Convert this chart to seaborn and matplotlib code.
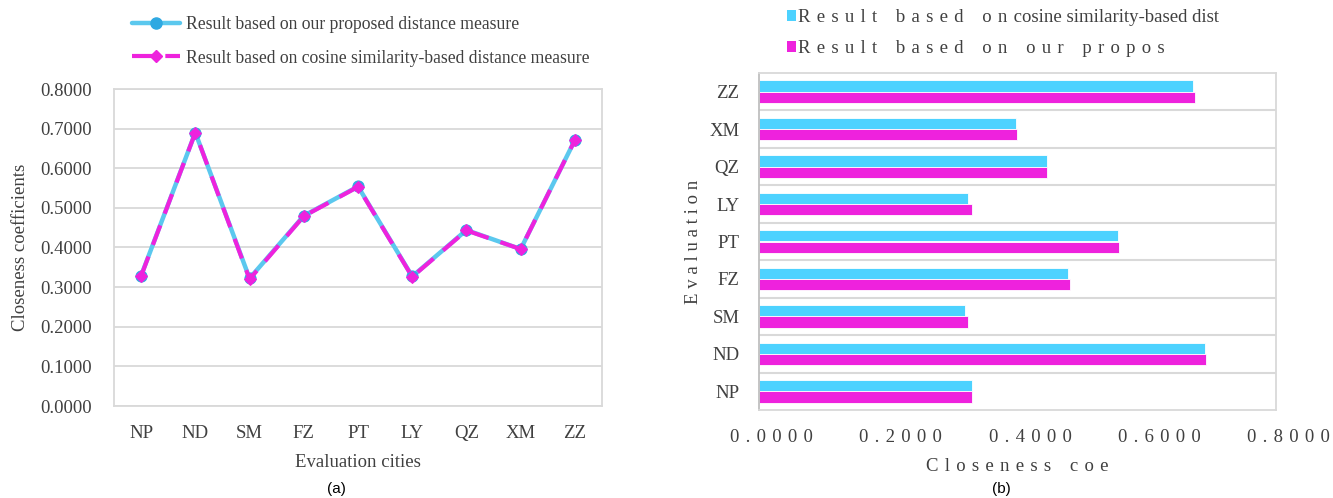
import numpy as np
import pandas as pd
import matplotlib
matplotlib.use("Agg")
import matplotlib.pyplot as plt
from matplotlib.lines import Line2D
from matplotlib.patches import Patch
import seaborn as sns

# ---------------- data ----------------
cities = ["NP", "ND", "SM", "FZ", "PT", "LY", "QZ", "XM", "ZZ"]
proposed_line = [0.329, 0.690, 0.322, 0.480, 0.554, 0.327, 0.444, 0.396, 0.671]
cosine_line = [0.328, 0.690, 0.320, 0.479, 0.553, 0.326, 0.443, 0.396, 0.671]

bar_cyan = [0.329, 0.690, 0.318, 0.478, 0.555, 0.324, 0.446, 0.397, 0.672]
bar_magenta = [0.330, 0.692, 0.323, 0.482, 0.557, 0.329, 0.446, 0.399, 0.674]

yticks_a = [0.0, 0.1, 0.2, 0.3, 0.4, 0.5, 0.6, 0.7, 0.8]
xticks_b = [0.0, 0.2, 0.4, 0.6, 0.8]

label_a1 = "Result based on our proposed distance measure"
label_a2 = "Result based on cosine similarity-based distance measure"

CYAN_LINE = "#5BC8EE"
CYAN_MARK = "#2FA9E2"
MAGENTA = "#EE22DD"
CYAN_BAR = "#4DD2FF"
GRID = "#D9D9D9"
TEXT = "#404040"

SEP = "\u2004"


def spaced(s, sep=" "):
    return (sep * 3).join(sep.join(w) for w in s.split(" "))


sns.set_style("white")
plt.rcParams["font.family"] = ["Liberation Serif", "DejaVu Serif"]
plt.rcParams["text.color"] = TEXT
plt.rcParams["axes.labelcolor"] = TEXT
plt.rcParams["xtick.color"] = TEXT
plt.rcParams["ytick.color"] = TEXT

W, H = 1333, 498
fig = plt.figure(figsize=(W / 100, H / 100), dpi=100)

# ---------------- (a) line chart ----------------
axa = fig.add_axes([114 / W, (H - 406) / H, 488 / W, 317 / H])
df_a = pd.DataFrame({
    "city": cities * 2,
    "value": proposed_line + cosine_line,
    "series": [label_a1] * len(cities) + [label_a2] * len(cities),
})
df_a["x"] = list(range(len(cities))) * 2
sns.lineplot(data=df_a[df_a.series == label_a1], x="x", y="value", ax=axa,
             color=CYAN_LINE, lw=3.2, marker="o", markersize=8,
             markerfacecolor=CYAN_MARK, markeredgecolor=CYAN_MARK, legend=False)
sns.lineplot(data=df_a[df_a.series == label_a2], x="x", y="value", ax=axa,
             color=MAGENTA, lw=3.0, marker="D", markersize=6.5,
             markerfacecolor=MAGENTA, markeredgecolor=MAGENTA, legend=False)
axa.lines[1].set_dashes([5, 3])
axa.set_xlim(-0.5, len(cities) - 0.5)
axa.set_ylim(0, 0.8)
axa.set_yticks(yticks_a)
axa.set_yticklabels([f"{v:.4f}" for v in yticks_a], fontsize=13.5)
axa.set_xticks(range(len(cities)))
axa.set_xticklabels(cities, fontsize=13.5)
axa.tick_params(axis="y", length=0, pad=16)
axa.tick_params(axis="x", length=0, pad=14)
axa.grid(axis="y", color=GRID, lw=1.3)
axa.set_axisbelow(True)
for s in axa.spines.values():
    s.set_color(GRID)
    s.set_linewidth(1.3)
axa.set_xlabel("Evaluation cities", fontsize=13.5, labelpad=8)
axa.set_ylabel("Closeness coefficients", fontsize=13.5, labelpad=8)

handles_a = [
    Line2D([], [], color=CYAN_LINE, lw=3.2, marker="o", markersize=8,
           markerfacecolor=CYAN_MARK, markeredgecolor=CYAN_MARK),
    Line2D([], [], color=MAGENTA, lw=3.0, marker="D", markersize=6.5,
           dashes=[5, 3]),
]
fig.legend(handles_a, [label_a1, label_a2], loc="upper left",
           bbox_to_anchor=(116 / W, 1 - 0 / H), frameon=False, fontsize=12.7,
           handlelength=2.7, handletextpad=0.35, labelspacing=0.95,
           labelcolor=TEXT)

fig.text(336 / W, 1 - 489 / H, "(a)", family=["Liberation Sans", "DejaVu Sans"],
         fontsize=11, ha="center", va="center", color="#000000")

# ---------------- (b) bar chart ----------------
axb = fig.add_axes([759 / W, (H - 410) / H, 517 / W, 337 / H])
order = cities[::-1]
hue_cyan = "cyan"
hue_mag = "magenta"
df_b = pd.DataFrame({
    "city": cities * 2,
    "value": bar_cyan + bar_magenta,
    "series": [hue_cyan] * len(cities) + [hue_mag] * len(cities),
})
sns.barplot(data=df_b, y="city", x="value", hue="series", order=order,
            hue_order=[hue_cyan, hue_mag], orient="h", ax=axb, width=0.6,
            palette={hue_cyan: CYAN_BAR, hue_mag: MAGENTA}, legend=False,
            edgecolor="white", linewidth=0.6, saturation=1)
axb.set_xlim(0, 0.8)
axb.set_ylim(len(cities) - 0.5, -0.5)
axb.set_xticks(xticks_b)
axb.set_xticklabels([SEP * 4 + spaced(f"{v:.4f}", SEP) for v in xticks_b],
                    fontsize=13.5)
axb.set_yticks(range(len(order)))
axb.set_yticklabels(order, fontsize=13.5)
axb.set_yticks(np.arange(len(order) - 1) + 0.5, minor=True)
axb.grid(axis="y", which="minor", color=GRID, lw=1.5)
axb.grid(axis="x", visible=False)
axb.set_axisbelow(True)
axb.tick_params(axis="y", which="both", length=0, pad=14)
axb.tick_params(axis="x", length=0, pad=14)
for name, s in axb.spines.items():
    s.set_color(GRID)
    s.set_linewidth(1.3)
axb.spines["left"].set_color("#BFBFBF")
axb.set_xlabel(spaced("Closeness coe", SEP), fontsize=13.5, labelpad=8)
axb.set_ylabel(spaced("Evaluation"), fontsize=13.5, labelpad=5)

lab_b1 = spaced("Result based on", SEP) + SEP + "cosine similarity-based dist"
lab_b2 = spaced("Result based on our propos", SEP)
handles_b = [Patch(facecolor=CYAN_BAR, edgecolor="none"),
             Patch(facecolor=MAGENTA, edgecolor="none")]
fig.legend(handles_b, [lab_b1, lab_b2], loc="upper left",
           bbox_to_anchor=(770 / W, 1 + 8 / H), frameon=False, fontsize=13.5,
           handlelength=0.5, handleheight=0.5, handletextpad=0.1,
           labelspacing=0.75, labelcolor=TEXT)

fig.text(1001 / W, 1 - 489 / H, "(b)", family=["Liberation Sans", "DejaVu Sans"],
         fontsize=11, ha="center", va="center", color="#000000")

fig.savefig("out.png", dpi=100)
